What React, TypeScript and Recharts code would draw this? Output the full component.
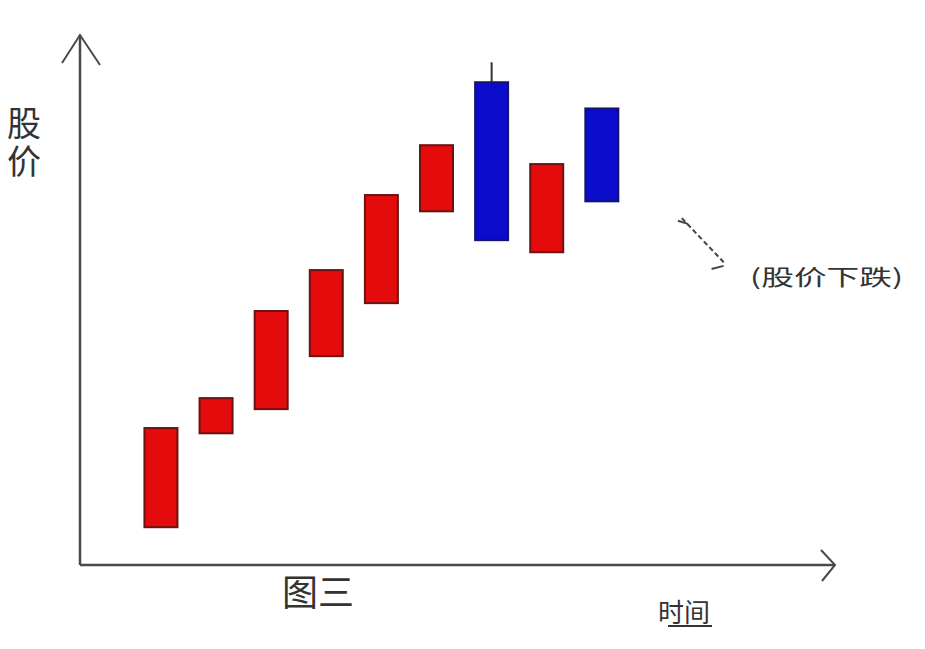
import { Bar, ComposedChart, Label, ReferenceDot, ReferenceLine, XAxis, YAxis } from "recharts";

// time index of each candle
const times = [1, 2, 3, 4, 5, 6, 7, 8, 9];
const opens = [7.2, 25.1, 29.7, 39.8, 49.9, 67.4, 92.0, 59.6, 87.0];
const closes = [26.1, 31.8, 48.4, 56.2, 70.5, 80.0, 61.9, 76.4, 69.3];
const highs = [26.1, 31.8, 48.4, 56.2, 70.5, 80.0, 95.8, 76.4, 87.0];
const lows = [7.2, 25.1, 29.7, 39.8, 49.9, 67.4, 61.9, 59.6, 69.3];

const yTitle = "股价";
const figTitle = "图三";
const xTitle = "时间";
const note = "(股价下跌)";

const font = "'Noto Sans CJK SC', 'Noto Sans', sans-serif";
const axisColor = "#4a4a4a";

const data = times.map((t, i) => ({
    t,
    open: opens[i],
    close: closes[i],
    high: highs[i],
    low: lows[i],
    body: [Math.min(opens[i], closes[i]), Math.max(opens[i], closes[i])],
}));

const Candle = (props: any) => {
    const { x, y, width, height, payload } = props;
    const up = payload.close >= payload.open;
    const top = Math.max(payload.open, payload.close);
    const bottom = Math.min(payload.open, payload.close);
    const ppu = height / (top - bottom);
    const cx = x + width / 2;
    const wickTop = y - (payload.high - top) * ppu;
    const wickBottom = y + height + (bottom - payload.low) * ppu;
    const fill = up ? "#e30b0b" : "#0b0bcc";
    const stroke = up ? "#6b1212" : "#14146e";
    return (
        <g>
            {wickTop < y && <line x1={cx} x2={cx} y1={wickTop} y2={y} stroke="#333" strokeWidth={2} />}
            {wickBottom > y + height && (
                <line x1={cx} x2={cx} y1={y + height} y2={wickBottom} stroke="#333" strokeWidth={2} />
            )}
            <rect x={x} y={y} width={width} height={height} fill={fill} stroke={stroke} strokeWidth={2} />
        </g>
    );
};

const YLabel = (props: any) => {
    const vb = props.viewBox;
    const ax = vb.x + vb.width;
    return (
        <g>
            <path
                d={`M${ax - 18},${vb.y + 28} L${ax},${vb.y} L${ax + 20},${vb.y + 30}`}
                fill="none"
                stroke={axisColor}
                strokeWidth={2}
            />
            <text
                x={24}
                y={106}
                fontSize={34}
                letterSpacing={4}
                fill="#333"
                fontFamily={font}
                style={{ writingMode: "vertical-rl" }}
            >
                {yTitle}
            </text>
        </g>
    );
};

const XLabel = (props: any) => {
    const vb = props.viewBox;
    const ex = vb.x + vb.width;
    const ay = vb.y;
    return (
        <g>
            <path
                d={`M${ex - 14},${ay - 15} L${ex},${ay} L${ex - 13},${ay + 16}`}
                fill="none"
                stroke={axisColor}
                strokeWidth={2}
            />
            <text x={318} y={ay + 41} textAnchor="middle" fontSize={36} fill="#333" fontFamily={font}>
                {figTitle}
            </text>
            <text x={684} y={ay + 57} textAnchor="middle" fontSize={26} fill="#333" fontFamily={font}>
                {xTitle}
            </text>
            <line x1={668} x2={712} y1={ay + 61} y2={ay + 61} stroke="#333" strokeWidth={2} />
        </g>
    );
};

const NoteLabel = (props: any) => {
    const vb = props.viewBox;
    return (
        <text
            x={vb.x}
            y={vb.y + 8}
            fontSize={22}
            fill="#333"
            fontFamily={font}
            textLength={153}
            lengthAdjust="spacingAndGlyphs"
        >
            {note}
        </text>
    );
};

const App = () => {
    return (
        <div style={{ position: "absolute", left: 0, top: 0, background: "#fff" }}>
            <ComposedChart
                width={925}
                height={649}
                data={data}
                margin={{ top: 35, right: 90, bottom: 83, left: 79 }}
            >
                <XAxis
                    type="number"
                    dataKey="t"
                    domain={[-0.47, 13.23]}
                    height={1}
                    tick={false}
                    tickLine={false}
                    axisLine={{ stroke: axisColor, strokeWidth: 2.5 }}
                    allowDataOverflow
                >
                    <Label content={<XLabel />} />
                </XAxis>
                <YAxis
                    type="number"
                    domain={[0, 101]}
                    width={1}
                    tick={false}
                    tickLine={false}
                    axisLine={{ stroke: axisColor, strokeWidth: 2.5 }}
                    allowDataOverflow
                >
                    <Label content={<YLabel />} />
                </YAxis>
                <Bar dataKey="body" barSize={33} shape={<Candle />} isAnimationActive={false} />
                <ReferenceLine
                    segment={[{ x: 10.45, y: 66.1 }, { x: 11.21, y: 57.7 }]}
                    stroke="#444"
                    strokeWidth={2}
                    strokeDasharray="5 3"
                />
                <ReferenceLine
                    segment={[{ x: 10.38, y: 65.6 }, { x: 10.56, y: 65.0 }]}
                    stroke="#444"
                    strokeWidth={2}
                />
                <ReferenceLine
                    segment={[{ x: 10.99, y: 56.4 }, { x: 11.21, y: 57.0 }]}
                    stroke="#444"
                    strokeWidth={2}
                />
                <ReferenceDot x={11.69} y={54.9} r={0} fill="none" stroke="none" label={<NoteLabel />} />
            </ComposedChart>
        </div>
    );
};

export default App;
